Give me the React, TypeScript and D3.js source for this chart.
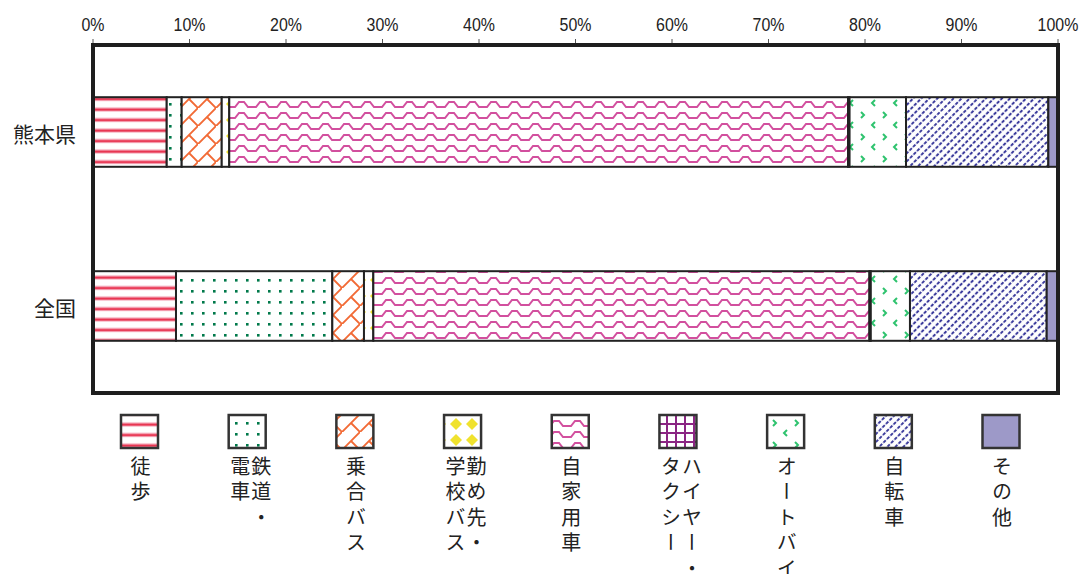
import React from 'react';
import * as d3 from 'd3';

const regions = ['熊本県', '全国'];
const modes = ['徒歩', '鉄道・電車', '乗合バス', '勤め先・学校バス', '自家用車', 'ハイヤー・タクシー', 'オートバイ', '自転車', 'その他'];
// legend text columns, right column first (vertical writing)
const legendColumns = [['徒歩'], ['鉄道・', '電車'], ['乗合バス'], ['勤め先・', '学校バス'], ['自家用車'], ['ハイヤー・', 'タクシー'], ['オートバイ'], ['自転車'], ['その他']];
const kumamoto = [7.64, 1.55, 4.15, 0.78, 64.12, 0.16, 5.85, 14.75, 1.0];
const zenkoku = [8.6, 16.2, 3.28, 0.97, 51.41, 0.14, 4.06, 14.17, 1.17];
const tickValues = [0, 10, 20, 30, 40, 50, 60, 70, 80, 90, 100];

const W = 1081;
const H = 574;
const left = 93;
const right = 1058;
const top = 45;
const bottom = 393;

const jp = '"Noto Sans CJK JP", "Noto Sans CJK SC", sans-serif';

const Patterns = () => (
  <defs>
    <pattern id="p0" patternUnits="userSpaceOnUse" width="10" height="10.5">
      <rect width="10" height="10.5" fill="#fff" />
      <rect y="2.3" width="10" height="4.4" fill="#f6b3c2" />
      <rect y="3.5" width="10" height="2.1" fill="#e8324f" />
    </pattern>
    <pattern id="p1" patternUnits="userSpaceOnUse" width="11" height="11">
      <rect width="11" height="11" fill="#fff" />
      <rect x="4" y="4" width="2.6" height="2.6" fill="#00794a" />
    </pattern>
    <pattern id="p2" patternUnits="userSpaceOnUse" width="18" height="18">
      <rect width="18" height="18" fill="#fff" />
      <path d="M-1,19 L19,-1 M9,9 L18,18" stroke="#f26a35" strokeWidth="1.9" fill="none" />
    </pattern>
    <pattern id="p3" patternUnits="userSpaceOnUse" width="16" height="16">
      <rect width="16" height="16" fill="#fff" />
      <polygon points="8,2 14,8 8,14 2,8" fill="#f0e22e" />
    </pattern>
    <pattern id="p4" patternUnits="userSpaceOnUse" width="21" height="11">
      <rect width="21" height="11" fill="#fff" />
      <path d="M0,8 L4,8 L8,3 L13,3 L17,8 L21,8" stroke="#d24f9e" strokeWidth="2" fill="none" />
    </pattern>
    <pattern id="p5" patternUnits="userSpaceOnUse" width="9" height="9">
      <rect width="9" height="9" fill="#fff" />
      <rect width="2" height="9" fill="#8b2583" />
      <rect width="9" height="2" fill="#8b2583" />
    </pattern>
    <pattern id="p6" patternUnits="userSpaceOnUse" width="22" height="22">
      <rect width="22" height="22" fill="#fff" />
      <path d="M3,2 L6,5 L3,8 M17,12 L14,15 L17,18" stroke="#2ec36e" strokeWidth="2" fill="none" />
    </pattern>
    <pattern id="p7" patternUnits="userSpaceOnUse" width="5.7" height="5" patternTransform="rotate(45)">
      <rect width="5.7" height="5" fill="#fff" />
      <line x1="2.85" y1="0" x2="2.85" y2="5" stroke="#3b3b9c" strokeWidth="2" strokeDasharray="3.4 1.6" />
    </pattern>
    <pattern id="p8" patternUnits="userSpaceOnUse" width="10" height="10">
      <rect width="10" height="10" fill="#9d99c8" />
    </pattern>
  </defs>
);

export default function App() {
  const x = d3.scaleLinear().domain([0, 100]).range([left, right]);
  const y = d3.scaleBand<string>().domain(regions).range([top, bottom]).paddingInner(0.6).paddingOuter(0.3);
  const legendX = d3.scalePoint<string>().domain(modes).range([139.5, 1001]);

  const rows = [kumamoto, zenkoku].map((vals, r) => {
    const stack = d3.cumsum(vals);
    return vals.map((v, i) => ({ region: regions[r], i, x0: stack[i] - v, x1: stack[i] }));
  });

  return (
    <svg width={W} height={H} style={{ position: 'absolute', left: 0, top: 0, display: 'block', background: '#fff' }}>
      <Patterns />

      {/* top axis */}
      {tickValues.map((t) => (
        <g key={t}>
          <line x1={x(t)} x2={x(t)} y1={top - 6} y2={top} stroke="#555" strokeWidth={1} />
          <text
            transform={`translate(${x(t)},31) scale(0.84,1)`}
            textAnchor="middle"
            fontFamily='"Liberation Sans", Arial, sans-serif'
            fontSize={19}
            fill="#222"
          >
            {t}%
          </text>
        </g>
      ))}

      {/* bars */}
      {rows.map((segs) =>
        segs.map((s) => (
          <rect
            key={s.region + s.i}
            x={x(s.x0)}
            y={y(s.region)}
            width={x(s.x1) - x(s.x0)}
            height={y.bandwidth()}
            fill={`url(#p${s.i})`}
            stroke="#222"
            strokeWidth={2}
          />
        ))
      )}

      {/* frame */}
      <rect x={left} y={top} width={right - left} height={bottom - top} fill="none" stroke="#1e1e1e" strokeWidth={4} />

      {/* region labels */}
      {regions.map((r) => (
        <text
          key={r}
          x={76}
          y={(y(r) ?? 0) + y.bandwidth() / 2 + 1}
          textAnchor="end"
          dominantBaseline="central"
          fontFamily={jp}
          fontSize={21}
          fill="#222"
        >
          {r}
        </text>
      ))}

      {/* legend */}
      {modes.map((m, i) => {
        const c = legendX(m) ?? 0;
        const cols = legendColumns[i];
        return (
          <g key={m}>
            <rect x={c - 18.5} y={415} width={37} height={33} fill={`url(#p${i})`} stroke="#333" strokeWidth={2.5} />
            {cols.map((col, k) => (
              <text
                key={k}
                x={cols.length === 1 ? c + 1 : k === 0 ? c + 14 : c - 7}
                y={456}
                style={{ writingMode: 'vertical-rl' } as React.CSSProperties}
                fontFamily={jp}
                fontSize={20}
                letterSpacing={5.5}
                fill="#222"
              >
                {col}
              </text>
            ))}
          </g>
        );
      })}
    </svg>
  );
}
